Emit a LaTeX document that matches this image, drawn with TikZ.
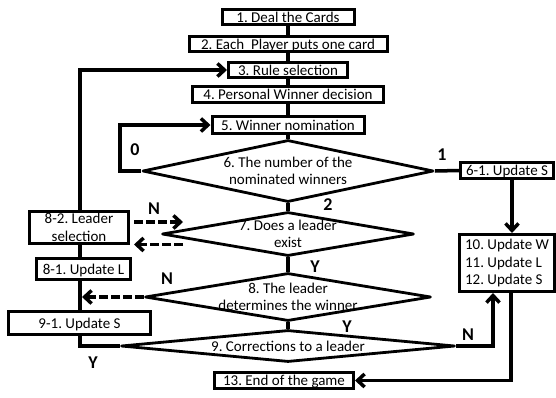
\documentclass[tikz,border=0pt]{standalone}
\usepackage{fontspec}
\setmainfont{Carlito}
\frenchspacing
\usetikzlibrary{arrows.meta,shapes.geometric,backgrounds,calc}
\begin{document}
\begin{tikzpicture}[x=1pt,y=-1pt,
  every node/.style={font=\fontsize{15}{17.5}\selectfont},
  stepbox/.style={draw, line width=3pt, fill=white, inner sep=0pt,
    text height=11.5pt, text depth=1pt},
  multibox/.style={draw, line width=3pt, fill=white, inner sep=0pt, align=center},
  decision/.style={draw, diamond, line width=2.8pt, line join=round,
    fill=white, inner sep=0pt},
  dtext/.style={align=center, inner sep=0pt},
  lab/.style={font=\bfseries\fontsize{18}{20}\selectfont, inner sep=0pt},
  link/.style={line width=3.5pt},
  flow/.style={line width=3.5pt, -{Straight Barb[length=7pt,width=13pt]}},
  dashflow/.style={line width=3.5pt, dash pattern=on 9pt off 3pt,
    -{Straight Barb[length=7pt,width=13pt]}}
]
\useasboundingbox (0,0) rectangle (556,397);

% main column of steps
\node[stepbox, minimum width=132, minimum height=15] (b1) at (288,17) {1. Deal the Cards};
\node[stepbox, minimum width=198, minimum height=15] (b2) at (288,44) {2. Each\ \ Player puts one card};
\node[stepbox, minimum width=119, minimum height=15] (b3) at (288,70) {3. Rule selection};
\node[stepbox, minimum width=191, minimum height=16] (b4) at (288,94.5) {4. Personal Winner decision};
\node[stepbox, minimum width=152, minimum height=17] (b5) at (288,125) {5. Winner nomination};

% decisions
\node[decision, minimum width=291, minimum height=62] (d6) at (288,171) {};
\node[dtext] at (d6.center) {6. The number of the\\nominated winners};
\node[decision, minimum width=252, minimum height=44] (d7) at (288,234) {};
\node[dtext] at (d7.center) {7. Does a leader\\exist};
\node[decision, minimum width=286, minimum height=48] (d8) at (288,297) {};
\node[dtext] at (d8.center) {8. The leader\\determines the winner};
\node[decision, minimum width=334, minimum height=32] (d9) at (288,346) {};
\node[dtext] at (d9.center) {9. Corrections to a leader};

% right side
\node[stepbox, minimum width=93, minimum height=16] (b61) at (507,170.5) {6-1. Update S};
\node[draw, line width=3pt, fill=white, inner ysep=0pt, inner xsep=6pt,
  minimum width=94, minimum height=57, align=left] (b10) at (507,263)
  {10. Update W\\11. Update L\\12. Update S};

% left side
\node[multibox, minimum width=99, minimum height=32] (b82) at (79,227.5) {8-2. Leader\\selection};
\node[stepbox, minimum width=94, minimum height=21] (b81) at (83.5,269) {8-1. Update L};
\node[stepbox, minimum width=142, minimum height=23] (b91) at (79.5,323) {9-1. Update S};

% end
\node[stepbox, minimum width=139, minimum height=16] (b13) at (284,380.5) {13. End of the game};

\coordinate (colL) at (80,0);
\coordinate (q7up) at (183,222);
\coordinate (q7dn) at (183,244.5);

\begin{pgfonlayer}{background}
  \draw[link] (b1.south) -- (b2.north);
  \draw[link] (b2.south) -- (b3.north);
  \draw[link] (b3.south) -- (b4.north);
  \draw[link] (b4.south) -- (b5.north);
  \draw[link] (b5.south) -- (d6.north);
  \draw[link] (d6.south) -- (d7.north);
  \draw[link] (d7.south) -- (d8.north);
  \draw[link] (d8.south) -- (d9.north);
  \draw[link] (d6.east) -- (b61.west);
  \draw[flow] (d6.west) -- ++(-21,0) |- (b5.west);
  \draw[flow] (d9.west) -- (colL |- d9.west) |- (b3.west);
\end{pgfonlayer}

\draw[flow] ([xshift=5pt]b61.south) -- ([xshift=5pt]b10.north);
\draw[flow] (d9.east) -| ([xshift=-14pt]b10.south);
\draw[flow] ([xshift=4pt]b10.south) |- (b13.east);

\draw[dashflow] ($(b82.east |- q7up)+(4,0)$) -- (q7up);
\draw[dashflow] (q7dn) -- ($(b82.east |- q7dn)+(4,0)$);
\draw[dashflow] (d8.west) -- ($(d8.west -| colL)+(2,0)$);

% branch labels
\node[lab] at (135,150) {0};
\node[lab] at (442,155) {1};
\node[lab] at (328,205) {2};
\node[lab] at (154,209) {N};
\node[lab] at (315,267) {Y};
\node[lab] at (167,279) {N};
\node[lab] at (347,327) {Y};
\node[lab] at (468,335) {N};
\node[lab] at (93,363) {Y};
\end{tikzpicture}
\end{document}
